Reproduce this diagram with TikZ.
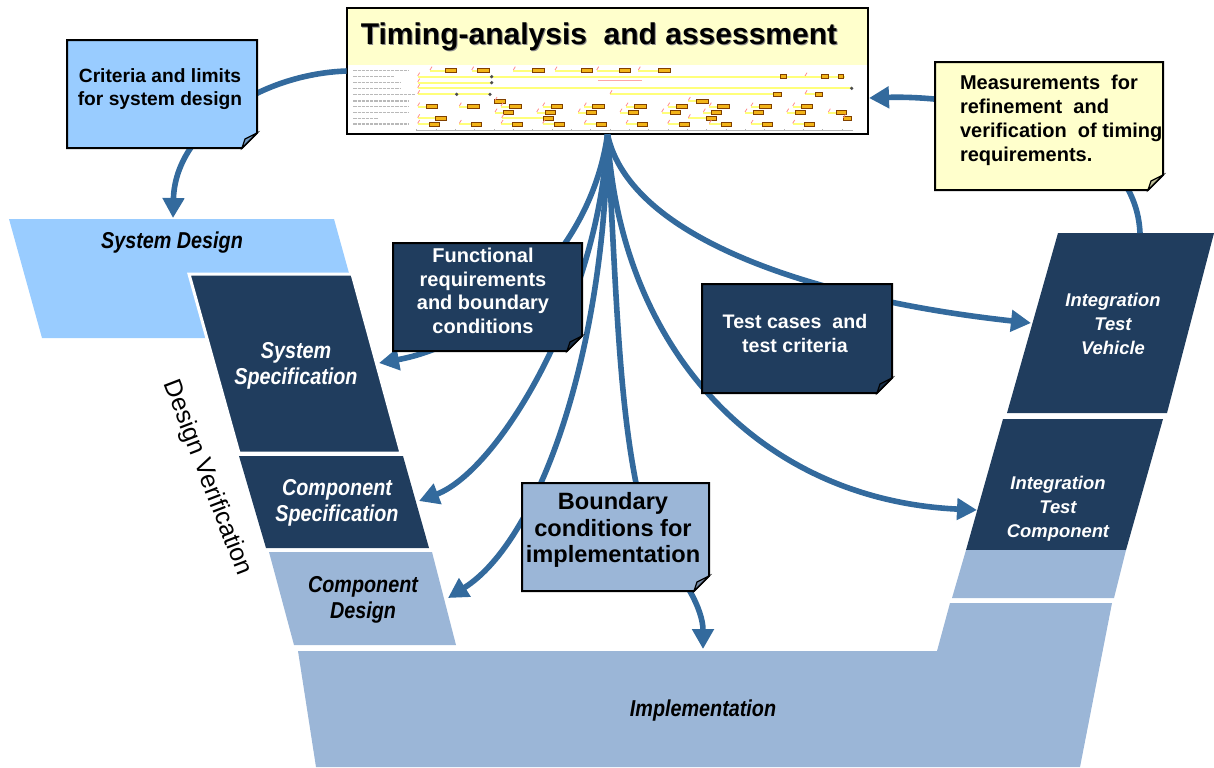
\documentclass[tikz,border=0pt]{standalone}
\usepackage{fontspec}
\setmainfont{Liberation Sans}
\newfontfamily\narrowsans[FakeStretch=0.86]{Liberation Sans}
\usetikzlibrary{arrows.meta}

\definecolor{sdblue}{HTML}{99CCFF}
\definecolor{vnavy}{HTML}{203D5E}
\definecolor{steel}{HTML}{9BB6D7}
\definecolor{arrowblue}{HTML}{336A9D}
\definecolor{noteyellow}{HTML}{FFFFCC}
\definecolor{baryellow}{HTML}{FFFF7A}
\definecolor{barorange}{HTML}{F2B418}

\tikzset{
  flow/.style={draw=arrowblue, line width=2.8pt, -{Triangle[length=10pt,width=10.5pt]}},
  vlabel/.style={font=\narrowsans\bfseries\itshape\fontsize{11.5}{13.2}\selectfont, align=center},
  itlabel/.style={font=\bfseries\itshape\fontsize{9.2}{12}\selectfont, align=center, text=white},
  notetxt/.style={font=\bfseries\fontsize{10}{11.8}\selectfont, align=center},
  trace/.style={draw=baryellow, line width=1pt},
  act/.style={fill=barorange, draw=orange!50!black, line width=0.2pt},
  evt/.style={draw=red!45, line width=0.4pt}
}

% sticky note with folded corner: x1, y1, x2, y2, colour
\newcommand{\stickynote}[5]{%
  \filldraw[fill=#5, line width=1pt] (#1,#2) -- (#3,#2) -- (#3,#4-15) -- (#3-15,#4) -- (#1,#4) -- cycle;
  \filldraw[fill=#5!75!black, line width=0.6pt] (#3,#4-15) -- (#3-15,#4) -- (#3-12,#4-9) -- cycle;
}

\begin{document}
\begin{tikzpicture}[x=0.5pt, y=-0.5pt]
    \useasboundingbox (0,0) rectangle (1214,767);

    % V model, left branch
    \fill[sdblue] (9,219) -- (334,219) -- (367,338) -- (42,338) -- cycle;
    \filldraw[fill=vnavy, draw=white, line width=1.5pt] (189,274) -- (352,274) -- (401,453) -- (239,453) -- cycle;
    \fill[vnavy] (239,456) -- (403,456) -- (429,548) -- (266,548) -- cycle;
    \fill[steel] (269,552) -- (432,552) -- (456,645) -- (294,645) -- cycle;
    % bottom
    \fill[steel] (298,651) -- (937,651) -- (950,603) -- (1112,603) -- (1080,767) -- (316,767) -- cycle;
    % right branch
    \fill[vnavy] (1058,233) -- (1214,233) -- (1167,413) -- (1007,413) -- cycle;
    \fill[vnavy] (1003,419) -- (1163,419) -- (1126,550) -- (966,550) -- cycle;
    \fill[steel] (966,550) -- (1126,550) -- (1114,598) -- (952,598) -- cycle;

    \node[vlabel] (sd) at (172,243) {System Design};
    \node[vlabel, text=white] (ss) at (296,366) {System\\Specification};
    \node[vlabel, text=white] (cs) at (337,503) {Component\\Specification};
    \node[vlabel] (cd) at (363,600) {Component\\Design};
    \node[vlabel] (impl) at (703,711) {Implementation};
    \node[itlabel] (itv) at (1113,324) {Integration\\Test\\Vehicle};
    \node[itlabel] (itc) at (1058,509) {Integration\\Test\\Component};
    \node[font=\fontsize{12.5}{14}\selectfont, rotate=-69] (dv) at (207,478) {Design Verification};

    % timing analysis box
    \node[fill=white, minimum width=260.5pt, minimum height=63pt, inner sep=0pt] (tim) at (607.5,71) {};
    \fill[noteyellow] (tim.north west) rectangle (868,65);
    \node[font=\bfseries\fontsize{15}{17}\selectfont, text=black!45] at (600,38) {Timing-analysis\ \ and assessment};
    \node[font=\bfseries\fontsize{15}{17}\selectfont] (title) at (599,37) {Timing-analysis\ \ and assessment};
    \begin{scope}[shift={(345,5)}, x=0.16667pt, y=-0.16667pt]
        % signal names
        \foreach \yy/\ww in {197/190,215/150,233/165,250/165,268/210,288/190,305/190,323/190,340/100,357/190}
            \draw[gray!55, line width=0.8pt, dash pattern=on 1.6pt off 0.5pt] (25,\yy) -- (\ww,\yy);
        % row 1
        \foreach \s/\a/\b in {255/300/335,380/398/432,505/562/597,630/708/742,755/822/857,880/940/975} {
            \draw[trace] (\s,197) -- (\b,197);
            \draw[act] (\a,191) rectangle (\b,203);
            \draw[evt] (\s,195) -- (\s+6,185);
        }
        % rows 2 to 5
        \draw[trace] (218,215) -- (1500,215);
        \foreach \a/\b in {1305/1325,1430/1450,1480/1495} \draw[act] (\a,209) rectangle (\b,221);
        \draw[red!35, line width=0.5pt] (760,226) -- (890,226);
        \draw[trace] (218,233) -- (440,233);
        \draw[trace] (218,250) -- (1520,250);
        \draw[trace] (218,268) -- (435,268);
        \draw[trace] (795,268) -- (1308,268);
        \draw[trace] (1380,268) -- (1432,268);
        \draw[act] (1285,262) rectangle (1308,274);
        \draw[act] (1410,262) rectangle (1432,274);
        \foreach \xx/\yy in {440/215,440/233,1520/250,335/268,435/268}
            \fill[black!70] (\xx,\yy) circle (0.9pt);
        \foreach \xx/\yy in {218/215,1380/215,218/233,218/250,218/268,795/268,1380/268}
            \draw[evt] (\xx,\yy-2) -- (\xx+6,\yy-12);
        % row 6
        \draw[trace] (448,288) -- (480,288);
        \draw[act] (448,282) rectangle (480,294);
        \draw[trace] (1030,288) -- (1090,288);
        \draw[act] (1055,282) rectangle (1090,294);
        \draw[evt] (450,286) -- (456,276);
        \draw[evt] (1030,286) -- (1036,276);
        % row 7
        \foreach \s in {218,343,...,1343} {
            \draw[trace] (\s,305) -- (\s+60,305);
            \draw[act] (\s+25,299) rectangle (\s+60,311);
            \draw[evt] (\s,303) -- (\s+6,293);
        }
        % row 8
        \foreach \s in {450,575,...,1450} {
            \draw[trace] (\s,323) -- (\s+55,323);
            \draw[act] (\s+25,317) rectangle (\s+55,329);
            \draw[evt] (\s,321) -- (\s+6,311);
        }
        % row 9
        \foreach \s/\a/\b in {218/272/305,470/595/625,1030/1085/1115,1495/1495/1520} {
            \draw[trace] (\s,340) -- (\b,340);
            \draw[act] (\a,334) rectangle (\b,346);
            \draw[evt] (\s,338) -- (\s+6,328);
        }
        % row 10
        \foreach \s in {218,343,...,1343} {
            \draw[trace] (\s,357) -- (\s+65,357);
            \draw[act] (\s+35,351) rectangle (\s+65,363);
            \draw[evt] (\s,355) -- (\s+6,345);
        }
        % time axis
        \draw[gray!60, line width=0.3pt] (215,375) -- (1525,375);
        \foreach \t in {215,273,...,1525} \draw[gray!60, line width=0.3pt] (\t,372) -- (\t,378);
    \end{scope}
    \draw[line width=1pt] (tim.north west) rectangle (tim.south east);

    % arrow ends
    \coordinate (sdtop) at (173,218);
    \coordinate (ssin) at (379,363);
    \coordinate (csin) at (419,501);
    \coordinate (cdin) at (448,598);
    \coordinate (implin) at (703,649);
    \coordinate (itvin) at (1031,323);
    \coordinate (itcin) at (977,510);
    \coordinate (itvtop) at (1140,233);
    \coordinate (timin) at (869,98);

    % connectors
    \draw[flow] (tim.west) .. controls (260,74) and (175,130) .. (sdtop);
    \draw[flow] (tim.south) .. controls (590,260) and (480,345) .. (ssin);
    \draw[flow] (tim.south) .. controls (600,300) and (500,470) .. (csin);
    \draw[flow] (tim.south) .. controls (605,350) and (540,540) .. (cdin);
    \draw[flow] (tim.south) .. controls (618,330) and (620,440) .. (650,540)
        .. controls (685,575) and (703,610) .. (implin);
    \draw[flow] (tim.south) .. controls (630,240) and (820,300) .. (itvin);
    \draw[flow] (tim.south) .. controls (620,350) and (760,500) .. (itcin);
    \draw[flow] (itvtop) .. controls (1135,120) and (960,95) .. (timin);

    % notes
    \stickynote{67}{40}{257}{148}{sdblue}
    \node[notetxt, font=\bfseries\fontsize{9.6}{11.7}\selectfont] (crit) at (160,89) {Criteria and limits\\for system design};
    \stickynote{935}{62}{1163}{190}{noteyellow}
    \node[notetxt, align=left, anchor=west, font=\bfseries\fontsize{10}{12}\selectfont] (meas) at (953,120)
        {Measurements\ \ for\\refinement\ \ and\\verification\ \ of timing\\requirements.};
    \stickynote{393}{243}{582}{351}{vnavy}
    \node[notetxt, text=white] (func) at (483,291) {Functional\\requirements\\and boundary\\conditions};
    \stickynote{702}{284}{892}{393}{vnavy}
    \node[notetxt, text=white, font=\bfseries\fontsize{9.8}{12}\selectfont] (test) at (795,333) {Test cases\ \ and\\test criteria};
    \stickynote{522}{483}{709}{591}{steel}
    \node[notetxt, font=\bfseries\fontsize{11.8}{13.3}\selectfont] (bnd) at (613,530) {Boundary\\conditions for\\implementation};
\end{tikzpicture}
\end{document}
